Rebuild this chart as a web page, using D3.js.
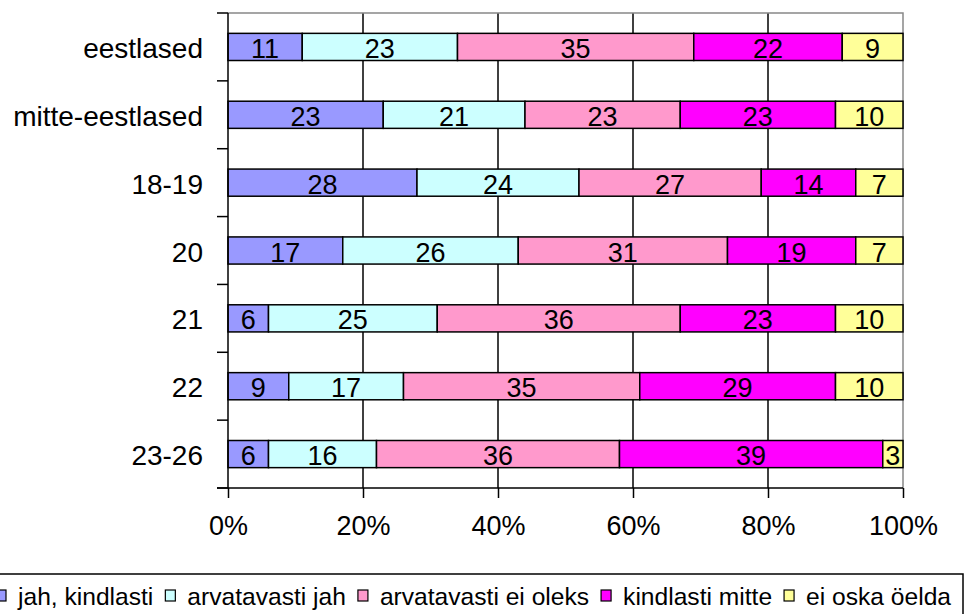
<!DOCTYPE html>
<html>
<head>
<meta charset="utf-8">
<script src="https://cdn.jsdelivr.net/npm/d3@7"></script>
<style>
  body { margin: 0; background: #fff; }
  text { font-family: "Liberation Sans", Arial, sans-serif; fill: #000; }
</style>
</head>
<body>
<script>
// categories (top to bottom)
var categories = ["eestlased", "mitte-eestlased", "18-19", "20", "21", "22", "23-26"];

// answer options
var seriesNames = ["jah, kindlasti", "arvatavasti jah", "arvatavasti ei oleks", "kindlasti mitte", "ei oska öelda"];
var seriesColors = ["#9999FF", "#CCFFFF", "#FF99CC", "#FF00FF", "#FFFF99"];

// values per series, in the order of categories
var jahKindlasti       = [11, 23, 28, 17, 6, 9, 6];
var arvatavastiJah     = [23, 21, 24, 26, 25, 17, 16];
var arvatavastiEiOleks = [35, 23, 27, 31, 36, 35, 36];
var kindlastiMitte     = [22, 23, 14, 19, 23, 29, 39];
var eiOskaOelda        = [9, 10, 7, 7, 10, 10, 3];

var xTicks = [0, 0.2, 0.4, 0.6, 0.8, 1];

var svgWidth = 970;
var svgHeight = 614;
var margin = { top: 13, left: 228, right: 67, bottom: 126 };
var width = svgWidth - margin.left - margin.right;
var height = svgHeight - margin.top - margin.bottom;

var svg = d3.select("body").append("svg")
  .attr("width", svgWidth)
  .attr("height", svgHeight);

var chartGroup = svg.append("g")
  .attr("transform", `translate(${margin.left}, ${margin.top})`);

// build rows for the stack
var allSeries = [jahKindlasti, arvatavastiJah, arvatavastiEiOleks, kindlastiMitte, eiOskaOelda];
var rows = categories.map(function(c, i) {
  var row = { cat: c };
  seriesNames.forEach(function(s, j) { row[s] = allSeries[j][i]; });
  return row;
});

var stacked = d3.stack().keys(seriesNames).offset(d3.stackOffsetExpand)(rows);

var xScale = d3.scaleLinear().domain([0, 1]).range([0, width]);
var yScale = d3.scaleBand().domain(categories).range([0, height])
  .paddingInner(0.6).paddingOuter(0.3);
var step = yScale.step();

// gridlines
chartGroup.selectAll(".grid")
  .data(xTicks.slice(1, -1))
  .enter().append("line")
  .attr("x1", d => xScale(d)).attr("x2", d => xScale(d))
  .attr("y1", 0).attr("y2", height)
  .attr("stroke", "#000").attr("stroke-width", 1.5);

// plot border (top/right gray)
chartGroup.append("path")
  .attr("d", `M0,0H${width}V${height}`)
  .attr("fill", "none").attr("stroke", "#888").attr("stroke-width", 1.5);

// bars
var layers = chartGroup.selectAll(".layer")
  .data(stacked)
  .enter().append("g")
  .attr("fill", (d, i) => seriesColors[i]);

layers.selectAll("rect")
  .data(d => d)
  .enter().append("rect")
  .attr("x", d => xScale(d[0]))
  .attr("width", d => xScale(d[1]) - xScale(d[0]))
  .attr("y", d => yScale(d.data.cat))
  .attr("height", yScale.bandwidth())
  .attr("stroke", "#000").attr("stroke-width", 1.5);

// bar labels
stacked.forEach(function(layer) {
  chartGroup.selectAll(null)
    .data(layer)
    .enter().append("text")
    .attr("x", d => xScale((d[0] + d[1]) / 2))
    .attr("y", d => yScale(d.data.cat) + yScale.bandwidth() / 2 + 11)
    .attr("text-anchor", "middle")
    .style("font-size", "27px")
    .text(d => d.data[layer.key]);
});

// y axis line and ticks at band boundaries
chartGroup.append("line")
  .attr("x1", 0).attr("x2", 0).attr("y1", 0).attr("y2", height)
  .attr("stroke", "#000").attr("stroke-width", 1.5);

chartGroup.selectAll(".ytick")
  .data(d3.range(categories.length + 1))
  .enter().append("line")
  .attr("x1", -11).attr("x2", 0)
  .attr("y1", d => d * step).attr("y2", d => d * step)
  .attr("stroke", "#000").attr("stroke-width", 1.5);

// category labels
chartGroup.selectAll(".ylabel")
  .data(categories)
  .enter().append("text")
  .attr("x", -25)
  .attr("y", d => yScale(d) + yScale.bandwidth() / 2 + 11)
  .attr("text-anchor", "end")
  .style("font-size", "28px")
  .text(d => d);

// x axis
var bottomAxis = d3.axisBottom(xScale)
  .tickValues(xTicks)
  .tickFormat(d3.format(".0%"))
  .tickSize(10)
  .tickPadding(18);

var xAxisG = chartGroup.append("g")
  .attr("transform", `translate(0, ${height})`)
  .call(bottomAxis);
xAxisG.select(".domain").remove();
xAxisG.selectAll(".tick line").attr("stroke", "#000").attr("stroke-width", 1.5);
xAxisG.selectAll(".tick text")
  .style("font-size", "27px")
  .style("font-family", "'Liberation Sans', Arial, sans-serif")
  .attr("fill", "#000");
xAxisG.append("line")
  .attr("x1", -11).attr("x2", width)
  .attr("stroke", "#000").attr("stroke-width", 1.5);

// legend
var legend = svg.append("g");
legend.append("rect")
  .attr("x", -2).attr("y", 574)
  .attr("width", 965).attr("height", 60)
  .attr("fill", "#fff").attr("stroke", "#000").attr("stroke-width", 1.5);

var lx = -4;
seriesNames.forEach(function(name, i) {
  legend.append("rect")
    .attr("x", lx).attr("y", 590)
    .attr("width", 10).attr("height", 11)
    .attr("fill", seriesColors[i])
    .attr("stroke", "#000").attr("stroke-width", 1.2);
  var t = legend.append("text")
    .attr("x", lx + 22).attr("y", 605)
    .style("font-size", "24.6px")
    .text(name);
  lx = lx + 22 + t.node().getComputedTextLength() + 12;
});
</script>
</body>
</html>
